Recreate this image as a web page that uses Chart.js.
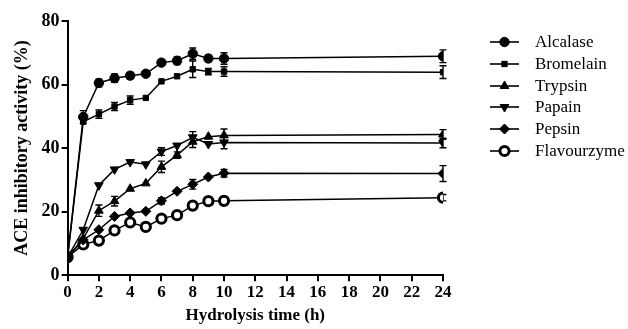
<!DOCTYPE html>
<html>
<head>
<meta charset="utf-8">
<script src="https://cdn.jsdelivr.net/npm/chart.js@4.4.0/dist/chart.umd.min.js"></script>
<style>
  html, body { margin: 0; padding: 0; background: #fff; }
  #wrap { width: 628px; height: 329px; }
</style>
</head>
<body>
<div id="wrap"><canvas id="chart"></canvas></div>
<script>
// hydrolysis times (h)
const times = [0, 1, 2, 3, 4, 5, 6, 7, 8, 9, 10, 24];
const xTicks = [0, 2, 4, 6, 8, 10, 12, 14, 16, 18, 20, 22, 24];
const yTicks = [0, 20, 40, 60, 80];

const enzymes = ['Alcalase', 'Bromelain', 'Trypsin', 'Papain', 'Pepsin', 'Flavourzyme'];

// ACE inhibitory activity (%)
const alcalase    = [5.7, 49.8, 60.5, 62.0, 62.8, 63.4, 66.9, 67.5, 69.7, 68.2, 68.2, 68.9];
const bromelain   = [5.7, 48.3, 50.7, 53.1, 55.1, 55.8, 61.0, 62.6, 64.8, 64.1, 64.1, 63.9];
const trypsin     = [5.7, 11.5, 20.3, 23.3, 27.2, 28.9, 34.1, 37.8, 42.0, 43.6, 44.0, 44.3];
const papain      = [5.7, 14.3, 28.3, 33.3, 35.6, 34.9, 38.9, 40.8, 43.4, 41.3, 41.8, 41.6];
const pepsin      = [5.7, 11.1, 14.3, 18.5, 19.6, 20.1, 23.4, 26.4, 28.6, 30.9, 32.1, 32.0];
const flavourzyme = [5.7, 9.7, 10.9, 14.1, 16.6, 15.2, 17.8, 18.9, 21.9, 23.3, 23.4, 24.4];

// error bars (SD)
const alcalaseErr    = [0.5, 2.0, 1.2, 1.3, 1.0, 0.5, 0.5, 1.2, 1.8, 1.0, 1.8, 2.0];
const bromelainErr   = [0.5, 0.6, 1.3, 1.3, 1.3, 0.8, 0.5, 0.8, 2.6, 1.0, 1.5, 2.0];
const trypsinErr     = [0.5, 0.8, 1.8, 1.5, 0.5, 0.5, 1.8, 1.0, 1.8, 0.8, 2.0, 1.5];
const papainErr      = [0.5, 0.8, 0.5, 0.5, 0.5, 0.5, 1.2, 0.8, 1.8, 0.5, 2.0, 1.5];
const pepsinErr      = [0.5, 0.5, 0.5, 0.5, 0.5, 0.5, 1.0, 0.5, 1.5, 0.5, 1.2, 2.5];
const flavourzymeErr = [0.5, 0.5, 0.5, 0.5, 0.5, 0.5, 0.5, 0.5, 0.8, 0.5, 0.5, 1.0];

const seriesValues = [alcalase, bromelain, trypsin, papain, pepsin, flavourzyme];
const seriesErrors = [alcalaseErr, bromelainErr, trypsinErr, papainErr, pepsinErr, flavourzymeErr];

const markers = [
    { style: 'circle', radius: 4.7, fill: '#000', border: 1 },
    { style: 'rect', radius: 3.8, fill: '#000', border: 1 },
    { style: 'triangle', radius: 5, fill: '#000', border: 1, rotation: 0 },
    { style: 'triangle', radius: 5, fill: '#000', border: 1, rotation: 180 },
    { style: 'rectRot', radius: 5, fill: '#000', border: 1 },
    { style: 'circle', radius: 4.6, fill: '#fff', border: 3 }
];

const serif = '"Liberation Serif", "Times New Roman", serif';

function toPoints(values) {
    return values.map((v, i) => ({ x: times[i], y: v }));
}

const datasets = enzymes.map((name, i) => ({
    label: name,
    data: toPoints(seriesValues[i]),
    errors: seriesErrors[i],
    borderColor: '#000',
    borderWidth: 1.5,
    backgroundColor: markers[i].fill,
    pointStyle: markers[i].style,
    pointRadius: markers[i].radius,
    pointRotation: markers[i].rotation || 0,
    pointBorderWidth: markers[i].border,
    pointBorderColor: '#000',
    pointBackgroundColor: markers[i].fill,
    tension: 0
}));

// draw error bars through the scales
const errorBars = {
    id: 'errorBars',
    beforeDatasetsDraw(chart) {
        const ctx = chart.ctx;
        const xs = chart.scales.x;
        const ys = chart.scales.y;
        ctx.save();
        ctx.strokeStyle = '#000';
        ctx.lineWidth = 1.4;
        chart.data.datasets.forEach(ds => {
            ds.data.forEach((p, i) => {
                const e = ds.errors[i];
                if (!e || e < 0.9) return;
                const px = xs.getPixelForValue(p.x);
                const top = ys.getPixelForValue(p.y + e);
                const bot = ys.getPixelForValue(p.y - e);
                ctx.beginPath();
                ctx.moveTo(px, top); ctx.lineTo(px, bot);
                ctx.moveTo(px - 3.5, top); ctx.lineTo(px + 3.5, top);
                ctx.moveTo(px - 3.5, bot); ctx.lineTo(px + 3.5, bot);
                ctx.stroke();
            });
        });
        ctx.restore();
    }
};

// legend: line sample with marker, then label
const sideLegend = {
    id: 'sideLegend',
    afterDraw(chart) {
        const ctx = chart.ctx;
        const x0 = 490, x1 = 519, tx = 535;
        const rows = [42, 64, 86, 107, 129, 151];
        ctx.save();
        enzymes.forEach((name, i) => {
            const y = rows[i];
            ctx.strokeStyle = '#000';
            ctx.lineWidth = 1.6;
            ctx.beginPath();
            ctx.moveTo(x0, y); ctx.lineTo(x1, y);
            ctx.stroke();
            const m = markers[i];
            ctx.fillStyle = m.fill;
            ctx.lineWidth = m.border;
            Chart.helpers.drawPoint(ctx, {
                pointStyle: m.style,
                radius: m.radius,
                rotation: m.rotation || 0,
                borderWidth: m.border
            }, (x0 + x1) / 2, y);
            ctx.fillStyle = '#000';
            ctx.font = '17px ' + serif;
            ctx.textBaseline = 'middle';
            ctx.textAlign = 'left';
            ctx.fillText(name, tx, y + 1);
        });
        ctx.restore();
    }
};

const ctx = document.getElementById('chart').getContext('2d');
new Chart(ctx, {
    type: 'line',
    data: { datasets: datasets },
    plugins: [errorBars, sideLegend],
    options: {
        responsive: true,
        maintainAspectRatio: false,
        animation: false,
        layout: { padding: { top: 21, right: 185, bottom: 3, left: 12 } },
        plugins: {
            legend: { display: false },
            tooltip: { enabled: false }
        },
        scales: {
            x: {
                type: 'linear',
                min: 0,
                max: 24,
                afterBuildTicks: axis => { axis.ticks = xTicks.map(v => ({ value: v })); },
                border: { color: '#000', width: 2 },
                grid: { drawOnChartArea: false, color: '#000', tickLength: 6, lineWidth: 2 },
                ticks: { color: '#000', padding: 1, maxRotation: 0, autoSkip: false,
                         font: { family: serif, size: 17, weight: 'bold' } },
                title: { display: true, text: 'Hydrolysis time (h)', color: '#000',
                         padding: { top: 2, bottom: 0 },
                         font: { family: serif, size: 17, weight: 'bold' } }
            },
            y: {
                min: 0,
                max: 80,
                afterBuildTicks: axis => { axis.ticks = yTicks.map(v => ({ value: v })); },
                border: { color: '#000', width: 2 },
                grid: { drawOnChartArea: false, color: '#000', tickLength: 6, lineWidth: 2 },
                ticks: { color: '#000', padding: 2,
                         font: { family: serif, size: 18, weight: 'bold' } },
                title: { display: true, text: 'ACE inhibitory activity (%)', color: '#000',
                         padding: { top: 0, bottom: 6 },
                         font: { family: serif, size: 18, weight: 'bold' } }
            }
        }
    }
});
</script>
</body>
</html>
